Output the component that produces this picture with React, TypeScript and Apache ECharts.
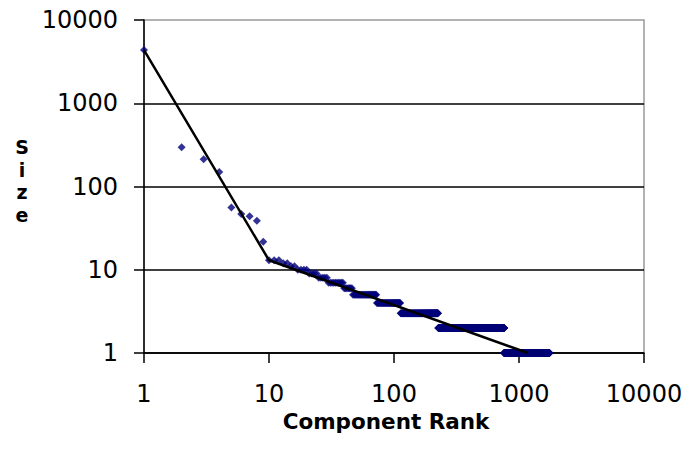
import React, { useEffect, useRef } from "react";
import * as echarts from "echarts";

// Individual head components (rank, size)
const headRanks = [1, 2, 3, 4, 5, 6, 7, 8, 9];
const headSizes = [4350, 297, 213, 149, 56, 46.6, 44, 38.7, 21.7];

// Tail: runs of consecutive ranks sharing the same integer size
const plateauSizes = [13, 12, 11, 10, 9, 8, 7, 6, 5, 4, 3, 2, 1];
const plateauFirstRank = [10, 13, 15, 17, 21, 25, 30, 40, 47, 73, 113, 226, 761];
const plateauLastRank = [12, 14, 16, 20, 24, 29, 39, 46, 72, 112, 225, 760, 1750];

// Fitted power-law trend (two segments)
const fitRanks = [1, 10, 1180];
const fitSizes = [4350, 13, 1];

const tickLabels = ["1", "10", "100", "1000", "10000"];

const xTitle = "Component Rank";
const yTitle = "Size";

export default function App() {
  const ref = useRef<HTMLDivElement>(null);

  useEffect(() => {
    if (!ref.current) return;
    const chart = echarts.init(ref.current, null, { renderer: "svg" });

    const points: number[][] = [];
    headRanks.forEach((r, i) => points.push([r, headSizes[i]]));
    plateauSizes.forEach((s, i) => {
      for (let r = plateauFirstRank[i]; r <= plateauLastRank[i]; r++) {
        points.push([r, s]);
      }
    });
    const fit = fitRanks.map((r, i) => [r, fitSizes[i]]);

    const fmt = (v: number) => {
      const idx = Math.round(Math.log10(v));
      return tickLabels[idx] ?? String(Math.round(v));
    };

    const labelStyle = {
      color: "#000",
      fontFamily: "DejaVu Sans",
      fontSize: 24,
      lineHeight: 20,
    };

    const yLetters = yTitle.split("").map((ch, i) => ({
      type: "text",
      x: 22,
      y: 147 + i * 22.5,
      style: {
        text: ch,
        fill: "#000",
        font: "bold 19px 'DejaVu Sans'",
        align: "center",
        verticalAlign: "middle",
      },
    }));

    chart.setOption({
      animation: false,
      backgroundColor: "#fff",
      grid: {
        left: 144,
        right: 44,
        top: 20,
        bottom: 96,
        show: true,
        borderColor: "#999",
        borderWidth: 1.5,
        backgroundColor: "transparent",
      },
      xAxis: {
        type: "log",
        logBase: 10,
        min: 1,
        max: 10000,
        axisLine: { show: true, onZero: false, lineStyle: { color: "#000", width: 1.5 } },
        axisTick: { show: true, length: 10, lineStyle: { color: "#000", width: 1.5 } },
        axisLabel: { ...labelStyle, margin: 31, formatter: fmt },
        splitLine: { show: false },
        minorTick: { show: false },
      },
      yAxis: {
        type: "log",
        logBase: 10,
        min: 1,
        max: 10000,
        axisLine: { show: true, onZero: false, lineStyle: { color: "#000", width: 1.5 } },
        axisTick: { show: true, length: 10, lineStyle: { color: "#000", width: 1.5 } },
        axisLabel: { ...labelStyle, margin: 26, formatter: fmt },
        splitLine: {
          show: true,
          showMaxLine: false,
          lineStyle: { color: "#000", width: 1.5 },
        },
        minorTick: { show: false },
      },
      graphic: [
        {
          type: "text",
          x: 386,
          y: 421.5,
          style: {
            text: xTitle,
            fill: "#000",
            font: "bold 21.5px 'DejaVu Sans'",
            align: "center",
            verticalAlign: "middle",
          },
        },
        ...yLetters,
      ],
      series: [
        {
          type: "scatter",
          data: points,
          symbol: "diamond",
          symbolSize: 8,
          itemStyle: { color: "#00007a" },
          z: 2,
        },
        {
          type: "line",
          data: fit,
          showSymbol: false,
          symbol: "none",
          lineStyle: { color: "#000", width: 2.5 },
          z: 3,
        },
      ],
    });

    return () => chart.dispose();
  }, []);

  return (
    <div
      ref={ref}
      style={{
        position: "fixed",
        left: 0,
        top: 0,
        width: 688,
        height: 449,
        background: "#fff",
      }}
    />
  );
}
